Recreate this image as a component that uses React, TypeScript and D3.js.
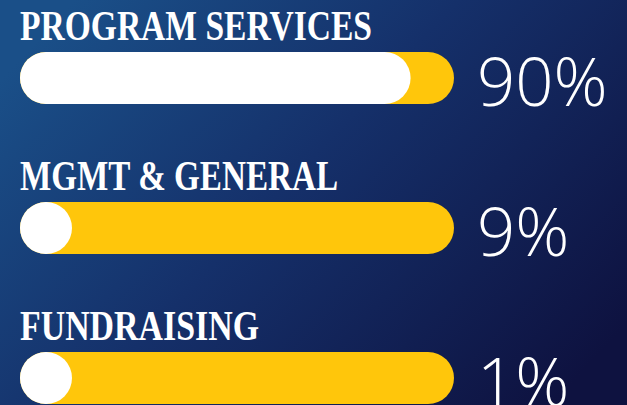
import React from "react";
import * as d3 from "d3";

const categories = ["PROGRAM SERVICES", "MGMT & GENERAL", "FUNDRAISING"];
const values = [90, 9, 1];
const valueLabels = ["90%", "9%", "1%"];
const labelWidths = [352, 318, 239];

const W = 627;
const H = 405;

export default function App() {
  const x = d3.scaleLinear().domain([0, 100]).range([20, 454]);
  const y = d3.scaleLinear().domain([0, 2]).range([52, 352]);
  const barH = 52;
  const r = barH / 2;
  return (
    <svg
      width={W}
      height={H}
      style={{ position: "fixed", left: 0, top: 0, display: "block" }}
    >
      <defs>
        <linearGradient id="bg" x1="0" y1="0.2" x2="1" y2="0.8">
          <stop offset="0" stopColor="#1a4f88" />
          <stop offset="0.45" stopColor="#15306a" />
          <stop offset="1" stopColor="#0e1240" />
        </linearGradient>
      </defs>
      <rect x={0} y={0} width={W} height={H} fill="url(#bg)" />
      {categories.map((c, i) => {
        const top = y(i);
        const fillW = Math.max(barH, x(values[i]) - x(0));
        return (
          <g key={c}>
            <text
              x={20}
              y={top - 12}
              fill="#ffffff"
              fontFamily="'Liberation Serif', 'DejaVu Serif', serif"
              fontWeight={700}
              fontSize={42}
              textLength={labelWidths[i]}
              lengthAdjust="spacingAndGlyphs"
            >
              {c}
            </text>
            <rect
              x={x(0)}
              y={top}
              width={x(100) - x(0)}
              height={barH}
              rx={r}
              ry={r}
              fill="#ffc60b"
            />
            <rect
              x={x(0)}
              y={top}
              width={fillW}
              height={barH}
              rx={r}
              ry={r}
              fill="#ffffff"
            />
            <text
              x={477}
              y={top + 54}
              fill="#ffffff"
              fontFamily="'Open Sans', 'Noto Sans', sans-serif"
              fontWeight={300}
              fontSize={67}
            >
              {valueLabels[i]}
            </text>
          </g>
        );
      })}
    </svg>
  );
}
